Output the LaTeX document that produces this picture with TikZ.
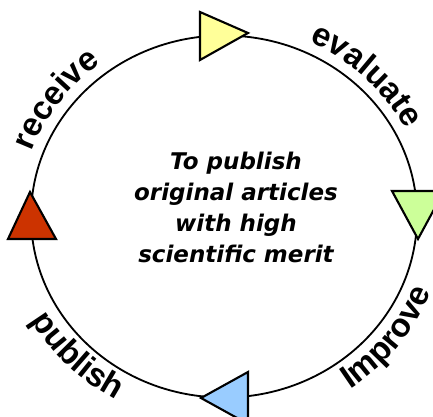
\documentclass[tikz,border=0pt]{standalone}
\usepackage{fontspec}
\setmainfont{DejaVu Sans}
\newfontfamily\stepfont{Liberation Sans}
\usetikzlibrary{calc, math, decorations.text}

\definecolor{evalyellow}{HTML}{FFFF99}
\definecolor{improvegreen}{HTML}{CCFF99}
\definecolor{publishblue}{HTML}{99CCFF}
\definecolor{receivered}{HTML}{CC3300}

\newcommand{\lbl}{\stepfont\fontsize{47}{48}\selectfont\bfseries}

\begin{document}
\begin{tikzpicture}[x=0.5mm, y=0.5mm, tri/.style={draw=black, line width=3pt, line join=miter}]

\tikzmath{
			\rx = 193; \ry = 181;
			\ax = \rx + 11; \ay = \ry + 11;
			\bx = \rx + 29; \by = \ry + 29;
         }

\useasboundingbox (-224,-199.5) rectangle (209,216.5);
\clip (-224,-199.5) rectangle (209,216.5);

\draw[line width=2.6pt] (0,0) ellipse [x radius=\rx, y radius=\ry];

\filldraw[tri, fill=evalyellow] (-24,156.5) -- (-24,204.5) -- (24,183.5) -- cycle;
\filldraw[tri, fill=improvegreen] (168,25.5) -- (220,25.5) -- (194,-22.5) -- cycle;
\filldraw[tri, fill=publishblue] (24,-155.5) -- (24,-207.5) -- (-23,-181.5) -- cycle;
\filldraw[tri, fill=receivered] (-194,24.5) -- (-216,-22.5) -- (-168,-22.5) -- cycle;

\node[align=center, font=\fontsize{32.7}{44}\selectfont\bfseries\itshape] (aim) at (12,9) {To publish\\original articles\\with high\\scientific merit};

% labels round the cycle
\path[decorate, decoration={text along path, text align=center, text={|\lbl|receive}}]
  (174:{\ax} and {\ay}) arc [start angle=174, end angle=114, x radius=\ax, y radius=\ay];
\path[decorate, decoration={text along path, text align=center, text={|\lbl|evaluate}}]
  (76:{\ax} and {\ay}) arc [start angle=76, end angle=16, x radius=\ax, y radius=\ay];
\path[decorate, decoration={text along path, text align=center, text={|\lbl|Improve}}]
  (-68:{\bx} and {\by}) arc [start angle=-68, end angle=-8, x radius=\bx, y radius=\by];
\path[decorate, decoration={text along path, text align=center, text={|\lbl|publish}}]
  (195:{\bx} and {\by}) arc [start angle=195, end angle=255, x radius=\bx, y radius=\by];

\end{tikzpicture}
\end{document}
